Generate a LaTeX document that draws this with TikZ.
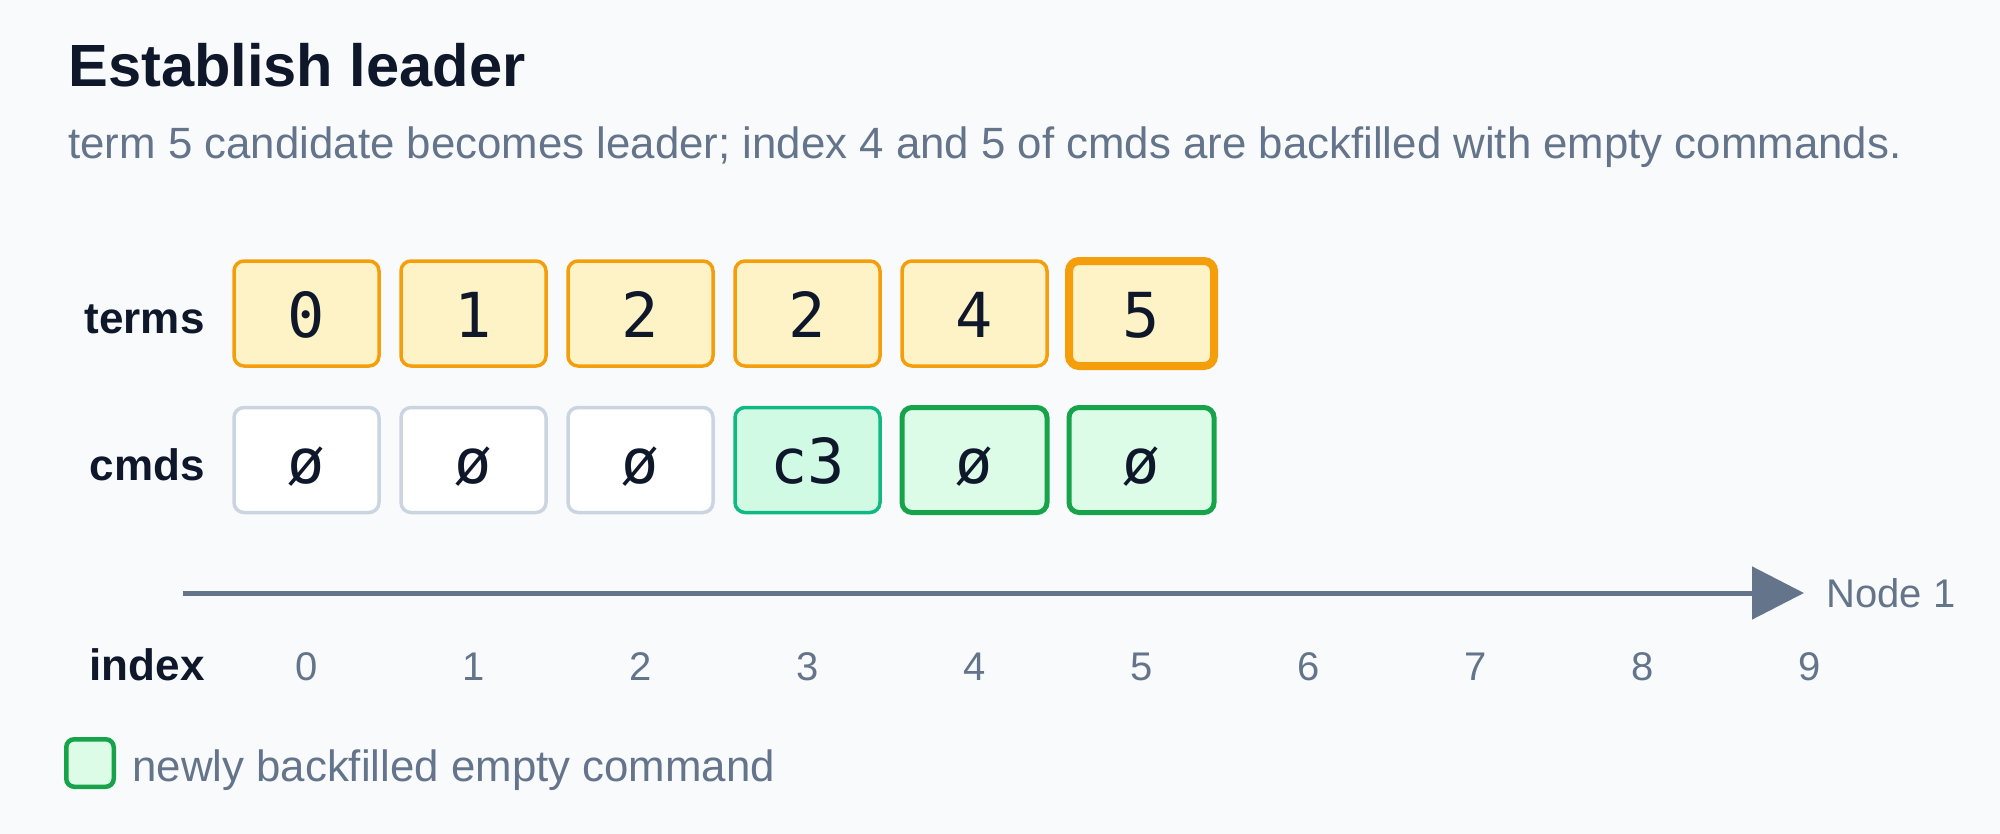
\documentclass[tikz,border=0pt]{standalone}
\usepackage{fontspec}
\setmainfont{Liberation Sans}
\newfontfamily\monofam{DejaVu Sans Mono}
\usetikzlibrary{arrows.meta}
\definecolor{bgc}{HTML}{F8FAFC}
\definecolor{ink}{HTML}{0F172A}
\definecolor{muted}{HTML}{64748B}
\definecolor{amberfill}{HTML}{FEF3C7}
\definecolor{amberline}{HTML}{F59E0B}
\definecolor{grayline}{HTML}{CBD5E1}
\definecolor{emfill}{HTML}{D1FAE5}
\definecolor{emline}{HTML}{10B981}
\definecolor{grfill}{HTML}{DCFCE7}
\definecolor{grline}{HTML}{16A34A}
\begin{document}
\begin{tikzpicture}[x=0.5pt,y=-0.5pt,
  cellbox/.style={rounded corners=5pt, minimum width=72.5pt, minimum height=52.5pt,
    inner sep=0pt, line width=1.75pt, text=ink,
    font=\monofam\fontsize{31pt}{36pt}\selectfont, text height=23.5pt, text depth=0pt},
  termcell/.style={cellbox, draw=amberline, fill=amberfill},
  termlast/.style={termcell, line width=4pt},
  graycell/.style={cellbox, draw=grayline, fill=white},
  emcell/.style={cellbox, draw=emline, fill=emfill},
  greencell/.style={cellbox, draw=grline, fill=grfill, line width=2.5pt},
  rowlab/.style={anchor=base east, inner sep=0pt, text=ink,
    font=\bfseries\fontsize{22pt}{26pt}\selectfont},
  idxlab/.style={anchor=base, inner sep=0pt, text=muted,
    font=\fontsize{20pt}{24pt}\selectfont},
  axisline/.style={draw=muted, line width=2.5pt,
    -{Triangle[length=26pt,width=26pt]}},
  bodytext/.style={anchor=base west, inner sep=0pt, text=muted,
    font=\fontsize{21.9pt}{26pt}\selectfont}
]
\fill[bgc] (0,0) rectangle (2000,834);
\useasboundingbox (0,0) rectangle (2000,834);

% title and subtitle
\node[anchor=base west, inner sep=0pt, text=ink,
  font=\bfseries\fontsize{29.8pt}{35pt}\selectfont] (title) at (68,87) {Establish leader};
\node[bodytext] (subtitle) at (68,159)
  {term 5 candidate becomes leader; index 4 and 5 of cmds are backfilled with empty commands.};

% row labels
\node[rowlab] (lterms) at (205,333) {terms};
\node[rowlab] (lcmds) at (205,480) {cmds};
\node[rowlab] (lindex) at (205,680) {index};

% terms row
\node[termcell] (t0) at (306.5,313.5) {0};
\node[termcell] (t1) at (473.5,313.5) {1};
\node[termcell] (t2) at (640.5,313.5) {2};
\node[termcell] (t3) at (807.5,313.5) {2};
\node[termcell] (t4) at (974.5,313.5) {4};
\node[termlast] (t5) at (1141.5,313.5) {5};

% cmds row
\node[graycell] (c0) at (306.5,460) {ø};
\node[graycell] (c1) at (473.5,460) {ø};
\node[graycell] (c2) at (640.5,460) {ø};
\node[emcell] (c3) at (807.5,460) {c3};
\node[greencell] (c4) at (974.5,460) {ø};
\node[greencell] (c5) at (1141.5,460) {ø};

% axis
\coordinate (axs) at (183,593);
\coordinate (axe) at (1804,593);
\draw[axisline] (axs) -- (axe);
\node[anchor=base west, inner sep=0pt, text=muted,
  font=\fontsize{20pt}{24pt}\selectfont] (nodelab) at (1826,607) {Node 1};

% index numbers
\node[idxlab] (i0) at (306.5,680) {0};
\node[idxlab] (i1) at (473.5,680) {1};
\node[idxlab] (i2) at (640.5,680) {2};
\node[idxlab] (i3) at (807.5,680) {3};
\node[idxlab] (i4) at (974.5,680) {4};
\node[idxlab] (i5) at (1141.5,680) {5};
\node[idxlab] (i6) at (1308.5,680) {6};
\node[idxlab] (i7) at (1475.5,680) {7};
\node[idxlab] (i8) at (1642.5,680) {8};
\node[idxlab] (i9) at (1809.5,680) {9};

% legend
\node[draw=grline, fill=grfill, line width=2.25pt, rounded corners=4pt,
  minimum width=23.75pt, minimum height=23.75pt, inner sep=0pt] (legbox) at (90,763) {};
\node[bodytext] (legtext) at (132,781) {newly backfilled empty command};
\end{tikzpicture}
\end{document}
